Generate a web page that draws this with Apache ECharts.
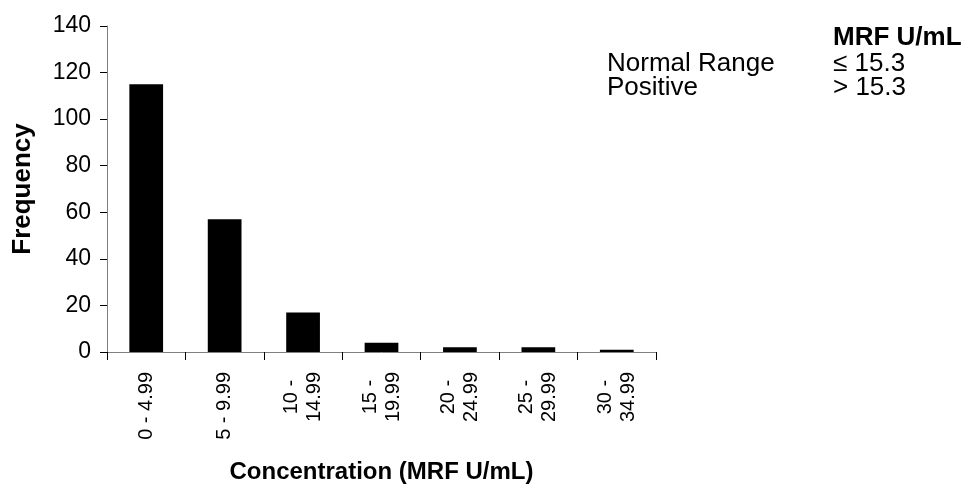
<!DOCTYPE html>
<html>
<head>
<meta charset="utf-8">
<script src="https://cdn.jsdelivr.net/npm/echarts@6/dist/echarts.min.js"></script>
<style>
html,body{margin:0;padding:0;background:#fff;}
#chart{width:968px;height:494px;}
</style>
</head>
<body>
<div id="chart"></div>
<script>
// ---- data ----
var categories = ['0 - 4.99', '5 - 9.99', '10 - 14.99', '15 - 19.99', '20 - 24.99', '25 - 29.99', '30 - 34.99'];
var frequencies = [115, 57, 17, 4, 2, 2, 1];
var yTicks = [0, 20, 40, 60, 80, 100, 120, 140];
var xTitle = 'Concentration (MRF U/mL)';
var yTitle = 'Frequency';
var refHeader = 'MRF U/mL';
var refLabels = ['Normal Range', 'Positive'];
var refValues = ['\u2264 15.3', '> 15.3'];

var FONT = '"Liberation Sans", Arial, sans-serif';
var chart = echarts.init(document.getElementById('chart'), null, {renderer: 'canvas'});

function wrapLabel(v) {
  var lines = v.length > 8 ? [v.split(' - ')[0] + ' -', v.split(' - ')[1]] : [v];
  return lines.map(function (l) { return '{c|' + l + '}'; }).join('\n');
}

var graphics = [];
graphics.push({type: 'text', left: 833, top: 25, style: {text: refHeader, font: 'bold 26px ' + FONT, fill: '#000'}});
for (var i = 0; i < refLabels.length; i++) {
  graphics.push({type: 'text', left: 607, top: 51 + i * 24, style: {text: refLabels[i], font: '26px ' + FONT, fill: '#000'}});
  graphics.push({type: 'text', left: 833, top: 51 + i * 24, style: {text: refValues[i], font: '26px ' + FONT, fill: '#000'}});
}

chart.setOption({
  animation: false,
  backgroundColor: '#fff',
  grid: {left: 107, right: 312, top: 26, bottom: 142, containLabel: false, outerBoundsMode: 'none'},
  xAxis: {
    type: 'category',
    data: categories,
    name: xTitle,
    nameLocation: 'middle',
    nameGap: 108,
    nameTextStyle: {fontFamily: FONT, fontWeight: 'bold', fontSize: 24, color: '#000'},
    axisLine: {show: true, lineStyle: {color: '#808080', width: 1}},
    axisTick: {show: true, length: 8, lineStyle: {color: '#000'}},
    axisLabel: {
      rotate: 90, margin: 20, color: '#000', fontFamily: FONT, fontSize: 20, interval: 0,
      lineHeight: 23,
      formatter: wrapLabel,
      rich: {c: {align: 'center', fontFamily: FONT, fontSize: 20, color: '#000', lineHeight: 23}}
    }
  },
  yAxis: {
    type: 'value',
    min: yTicks[0], max: yTicks[yTicks.length - 1], interval: yTicks[1] - yTicks[0],
    name: yTitle,
    nameLocation: 'middle',
    nameGap: 71,
    nameRotate: 90,
    nameTextStyle: {fontFamily: FONT, fontWeight: 'bold', fontSize: 26, color: '#000'},
    axisLine: {show: true, lineStyle: {color: '#808080', width: 1}},
    axisTick: {show: true, length: 7, lineStyle: {color: '#000'}},
    axisLabel: {margin: 16, color: '#000', fontFamily: FONT, fontSize: 23},
    splitLine: {show: false}
  },
  series: [{
    type: 'bar',
    data: frequencies,
    barCategoryGap: '57%',
    itemStyle: {color: '#000'}
  }],
  graphic: graphics
});
</script>
</body>
</html>
